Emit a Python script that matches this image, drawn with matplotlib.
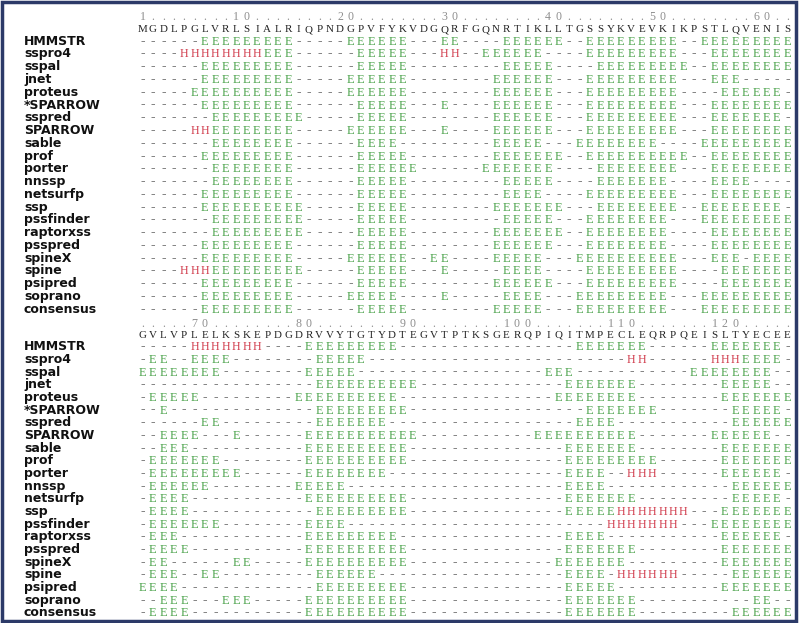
import matplotlib
matplotlib.use("Agg")
import matplotlib.pyplot as plt
from matplotlib.patches import Rectangle
from matplotlib.transforms import blended_transform_factory

# secondary structure predictions, one string per method, two blocks of 64 residues
methods = ["HMMSTR", "sspro4", "sspal", "jnet", "proteus", "*SPARROW", "sspred",
           "SPARROW", "sable", "prof", "porter", "nnssp", "netsurfp", "ssp",
           "pssfinder", "raptorxss", "psspred", "spineX", "spine", "psipred",
           "soprano", "consensus"]

ruler_1 = "1........10........20........30........40........50........60..."
sequence_1 = "MGDLPGLVRLSIALRIQPNDGPVFYKVDGQRFGQNRTIKLLTGSSYKVEVKIKPSTLQVENISIG"
pred_1 = [
    "------EEEEEEEEE-----EEEEEE---EE----EEEEEE--EEEEEEEEE--EEEEEEEEE-",
    "----HHHHHHHHEEE------EEEEE---HH--EEEEEE----EEEEEEEEE---EEEEEEEEE",
    "------EEEEEEEEE------EEEEE---------EEEEE----EEEEEEEEE--EEEEEEEEE",
    "------EEEEEEEEE-----EEEEEE--------EEEEEE---EEEEEEEEE---EEE------",
    "-----EEEEEEEEEE-----EEEEEE--------EEEEEE---EEEEEEEEE----EEEEEE--",
    "------EEEEEEEEE------EEEEE---E----EEEEEE---EEEEEEEEE---EEEEEEEE-",
    "-------EEEEEEEEE-----EEEEE--------EEEEEE---EEEEEEEEE---EEEEEEE--",
    "-----HHEEEEEEEE-----EEEEEE---E----EEEEEE---EEEEEEEEE---EEEEEEEE-",
    "-------EEEEEEEE------EEEE---------EEEEE---EEEEEEEE----EEEEEEEEE-",
    "------EEEEEEEEE------EEEEE--------EEEEEEE--EEEEEEEEEE--EEEEEEEE-",
    "-------EEEEEEEE------EEEEEE------EEEEEEE----EEEEEEEE---EEEEEEEE-",
    "-------EEEEEEEE------EEEEE---------EEEEE----EEEEEEE----EEEE-----",
    "------EEEEEEEEE------EEEEE---------EEEE----EEEEEEEEE---EEEEEEEE-",
    "------EEEEEEEEEE-----EEEEE--------EEEEEEE---EEEEEEEE--EEEEEEEE--",
    "-------EEEEEEEEE-----EEEEE---------EEEEE---EEEEEEEE---EEEEEEEEE-",
    "-------EEEEEEEEE-----EEEEE--------EEEEEEE--EEEEEEEE----EEEEEEEE-",
    "------EEEEEEEEE------EEEEE--------EEEEEE---EEEEEEEE----EEEEEEEE-",
    "------EEEEEEEEE-----EEEEEE--EE----EEEEE---EEEEEEEEEE---EEE-EEEE-",
    "----HHHEEEEEEEEE-----EEEEE---E-----EEEE----EEEEEEEEE----EEEEEEE-",
    "------EEEEEEEEE------EEEEE--------EEEEEE---EEEEEEEEE----EEEEEEEE",
    "------EEEEEEEEE-----EEEEE----E-----EEEE---EEEEEEEEE---EEEEEEEEE-",
    "------EEEEEEEEE------EEEEE--------EEEEE---EEEEEEEEE---EEEEEEEEE-",
]

ruler_2 = ".....70........80........90........100.......110.......120......"
sequence_2 = "GVLVPLELKSKEPDGDRVVYTGTYDTEGVTPTKSGERQPIQITMPECLEQRPQEISLTYECEE"
pred_2 = [
    "-----HHHHHHH----EEEEEEEEE-----------------EEEEEEE------EEEEEEE-H",
    "-EE--EEEE--------EEEEE-------------------------HH------HHHEEEE--",
    "EEEEEEEE--------EEEEE------------------EEE-----------EEEEEEEE---",
    "-----------------EEEEEEEEEE--------------EEEEEEE--------EEEEE---",
    "-EEEEE---------EEEEEEEEEE---------------EEEEEEEE--------EEEEEEE-",
    "--E--------------EEEEEEEEE-----------------EEEEEEE-------EEEEE--",
    "------EE---------EEEEEEE------------------EEEE-----------EEEEEE-",
    "--EEEE---E------EEEEEEEEEEE-----------EEEEEEEEEE-------EEEEEE---",
    "--EEE-----------EEEEEEEEEE---------------EEEEEEE--------EEEEEEE-",
    "-EEEEEEE--------EEEEEEEEEE---------------EEEEEEEEE------EEEEEEE-",
    "-EEEEEEEEE------EEEEEEEE-----------------EEEE--HHH------EEEEEE--",
    "-EEEEEE--------EEEEE---------------------EEEE------------EEEEEE-",
    "-EEEE-----------EEEEEEEEEE---------------EEEEEEE---------EEEEE--",
    "-EEEE------------EEEEEEEEE---------------EEEEEHHHHHHH---EEEEEEE-",
    "-EEEEEEE--------EEEE-------------------------HHHHHHH---EEEEEEEE-",
    "-EEE------------EEEEEEEEE----------------EEEE-----------EEEEEE--",
    "-EEEE-----------EEEEEEEEEE---------------EEEEEEE--------EEEEEEE-",
    "-EE------EE-----EEEEEEEEEE--------------EEEEEEE---------EEEEEEE-",
    "-EEE--EE---------EEEEEE------------------EEEE-HHHHHH-----EEEEEE-",
    "EEEE-------------EEEEEEEEE---------------EEEEE----------EEEEEEE-",
    "--EEE---EEE-----EEEEEEEEEE---------------EEEEEEE-----------EE---",
    "-EEEE-----------EEEEEEEEEE---------------EEEEEEE---------EEEEEE-",
]

ss_color = {"E": "#4ca34c", "H": "#d0394a", "-": "#7f7f7f"}
ss_size = {"E": 9.0, "H": 8.6, "-": 9.7}

W, H = 800, 623
fig = plt.figure(figsize=(W / 100, H / 100), dpi=100)

COL0, COLW = 142.5, 10.4   # pixel centre of the first column, column width
RIGHT = 793                # text is cut at the frame
NCOL = int((RIGHT - COL0) / COLW) + 1


def draw_block(y0, dy, ruler, seq, preds, ruler_row, seq_row):
    nrow = len(preds)
    top = y0 + dy * (ruler_row - 0.7)
    bottom = y0 + dy * (nrow - 1 + 0.7)
    left = COL0 - COLW / 2
    ax = fig.add_axes([left / W, 1 - bottom / H, (RIGHT - left) / W, (bottom - top) / H])
    ax.set_xlim(-0.5, -0.5 + (RIGHT - left) / COLW)
    ax.set_ylim(nrow - 1 + 0.7, ruler_row - 0.7)
    ax.axis("off")
    base = 0.33
    for i, ch in enumerate(ruler[:NCOL]):
        ax.text(i, ruler_row + base, ch, ha="center", va="baseline", fontsize=8.6,
                family="Liberation Serif", color="#8f8f8f", clip_on=True)
    for i, ch in enumerate(seq[:NCOL]):
        ax.text(i, seq_row + base, ch, ha="center", va="baseline", fontsize=7.9,
                family="Liberation Serif", color="#222222", clip_on=True)
    lab = blended_transform_factory(fig.transFigure, ax.transData)
    for r, (name, pred) in enumerate(zip(methods, preds)):
        ax.text(24 / W, r + base, name, transform=lab, ha="left", va="baseline",
                fontsize=9, fontweight="bold", family="DejaVu Sans", color="#111111")
        for i, ch in enumerate(pred[:NCOL]):
            ax.text(i, r + base, ch, ha="center", va="baseline", fontsize=ss_size[ch],
                    family="Liberation Serif", color=ss_color[ch], clip_on=True)


draw_block(40.5, 12.76, ruler_1, sequence_1, pred_1, -1.92, -0.96)
draw_block(346.0, 12.67, ruler_2, sequence_2, pred_2, -1.82, -0.97)

fig.patches.append(Rectangle((2 / W, 2 / H), 794 / W, 619 / H, transform=fig.transFigure,
                             fill=False, edgecolor="#2c3a68", linewidth=2.5))

fig.savefig("out.png", dpi=100)
